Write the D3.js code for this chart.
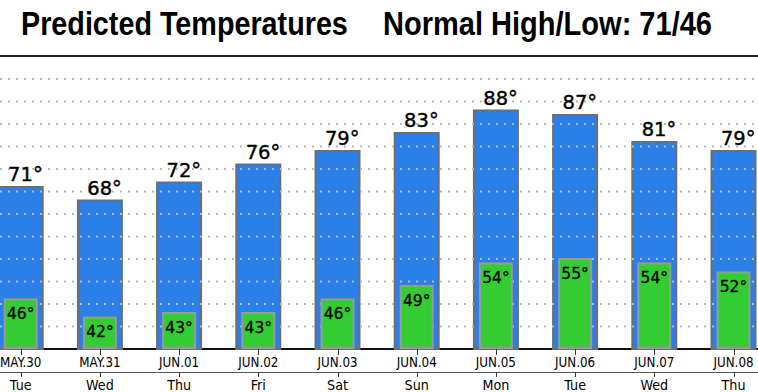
<!DOCTYPE html>
<html><head><meta charset="utf-8">
<script src="https://cdn.jsdelivr.net/npm/d3@7"></script>
<style>body{margin:0;background:#fff;}svg{display:block;}</style>
</head><body>
<svg id="c" width="758" height="392"></svg>
<script>
const dates = ["MAY.30","MAY.31","JUN.01","JUN.02","JUN.03","JUN.04","JUN.05","JUN.06","JUN.07","JUN.08"];
const days = ["Tue","Wed","Thu","Fri","Sat","Sun","Mon","Tue","Wed","Thu"];
const highs = [71,68,72,76,79,83,88,87,81,79];
const lows = [46,42,43,43,46,49,54,55,54,52];
const gridTicks = [40,45,50,55,60,65,70,75,80,85,90,95];
const titleLeft = "Predicted Temperatures";
const titleRight = "Normal High/Low: 71/46";

const svg = d3.select("#c");
const W = 758;
const base = 349;
const x = d3.scaleBand().domain(dates).range([-18.9, 773.1]).paddingInner(0.444).paddingOuter(0.222);
const y = d3.scaleLinear().domain([35, 95]).range([base, 79]);
const cx = d => x(d) + x.bandwidth() / 2;
const blueW = 44, greenW = 32;

// title (condensed to target widths)
function condensedTitle(txt, x0, width) {
  const t = svg.append("text").attr("x", 0).attr("y", 0)
    .attr("font-family", "Liberation Sans, Arial, sans-serif")
    .attr("font-weight", "bold").attr("font-size", 34).attr("fill", "#000").text(txt);
  const natural = t.node().getComputedTextLength();
  t.attr("transform", `translate(${x0},35) scale(${width / natural},1)`);
}
condensedTitle(titleLeft, 21, 327);
condensedTitle(titleRight, 383, 329);
svg.append("line").attr("x1", 0).attr("x2", W).attr("y1", 56).attr("y2", 56).attr("stroke", "#222").attr("stroke-width", 2);

// baseline
svg.append("line").attr("x1", 0).attr("x2", W).attr("y1", base).attr("y2", base).attr("stroke", "#111").attr("stroke-width", 2);

// blue bars
svg.append("g").selectAll("rect").data(highs).join("rect")
  .attr("x", (d, i) => cx(dates[i]) - blueW / 2)
  .attr("y", d => y(d))
  .attr("width", blueW)
  .attr("height", d => base - y(d))
  .attr("fill", "#2a7fe8").attr("stroke", "#6e6e6e").attr("stroke-width", 2);

// gridlines
svg.append("g").selectAll("line").data(gridTicks).join("line")
  .attr("x1", 0).attr("x2", W)
  .attr("y1", d => y(d)).attr("y2", d => y(d))
  .attr("stroke", "#b8b8b8").attr("stroke-width", 2).attr("stroke-dasharray", "2,6");

// green bars
svg.append("g").selectAll("rect").data(lows).join("rect")
  .attr("x", (d, i) => cx(dates[i]) - greenW / 2)
  .attr("y", d => y(d))
  .attr("width", greenW)
  .attr("height", d => base - y(d) - 1)
  .attr("fill", "#33cc33").attr("stroke", "#999999").attr("stroke-width", 2);

// high labels
svg.append("g").selectAll("text").data(highs).join("text")
  .attr("x", (d, i) => cx(dates[i]) + 4.7)
  .attr("y", d => y(d) - 6)
  .attr("text-anchor", "middle").attr("font-family", "DejaVu Sans, sans-serif")
  .attr("font-size", 19.5).attr("fill", "#000").attr("stroke", "#000").attr("stroke-width", 0.4)
  .text(d => d + "°");

// low labels
svg.append("g").selectAll("text").data(lows).join("text")
  .attr("x", (d, i) => cx(dates[i]))
  .attr("y", d => y(d) + 19.5)
  .attr("text-anchor", "middle").attr("font-family", "DejaVu Sans, sans-serif")
  .attr("font-size", 15.5).attr("fill", "#000").attr("stroke", "#000").attr("stroke-width", 0.3)
  .text(d => d + "°");

// date band
svg.append("rect").attr("x", 0).attr("y", base + 1).attr("width", W).attr("height", 21).attr("fill", "#fff");
svg.append("line").attr("x1", 0).attr("x2", W).attr("y1", 372.5).attr("y2", 372.5).attr("stroke", "#555").attr("stroke-width", 1);
const ax = svg.append("g");
dates.forEach((d, i) => {
  const c = Math.round(cx(d)) + 0.5;
  ax.append("line").attr("x1", c).attr("x2", c).attr("y1", base).attr("y2", 355).attr("stroke", "#333");
  ax.append("line").attr("x1", c).attr("x2", c).attr("y1", 372).attr("y2", 377).attr("stroke", "#333");
  ax.append("text").attr("transform", `translate(${cx(d)},367) scale(0.84,1)`)
    .attr("text-anchor", "middle").attr("font-family", "DejaVu Sans, sans-serif")
    .attr("font-size", 14.2).attr("fill", "#000").text(d);
  ax.append("text").attr("transform", `translate(${cx(d)},389.5) scale(0.88,1)`)
    .attr("text-anchor", "middle").attr("font-family", "DejaVu Sans, sans-serif")
    .attr("font-size", 14.5).attr("fill", "#000").text(days[i]);
});
</script>
</body></html>
